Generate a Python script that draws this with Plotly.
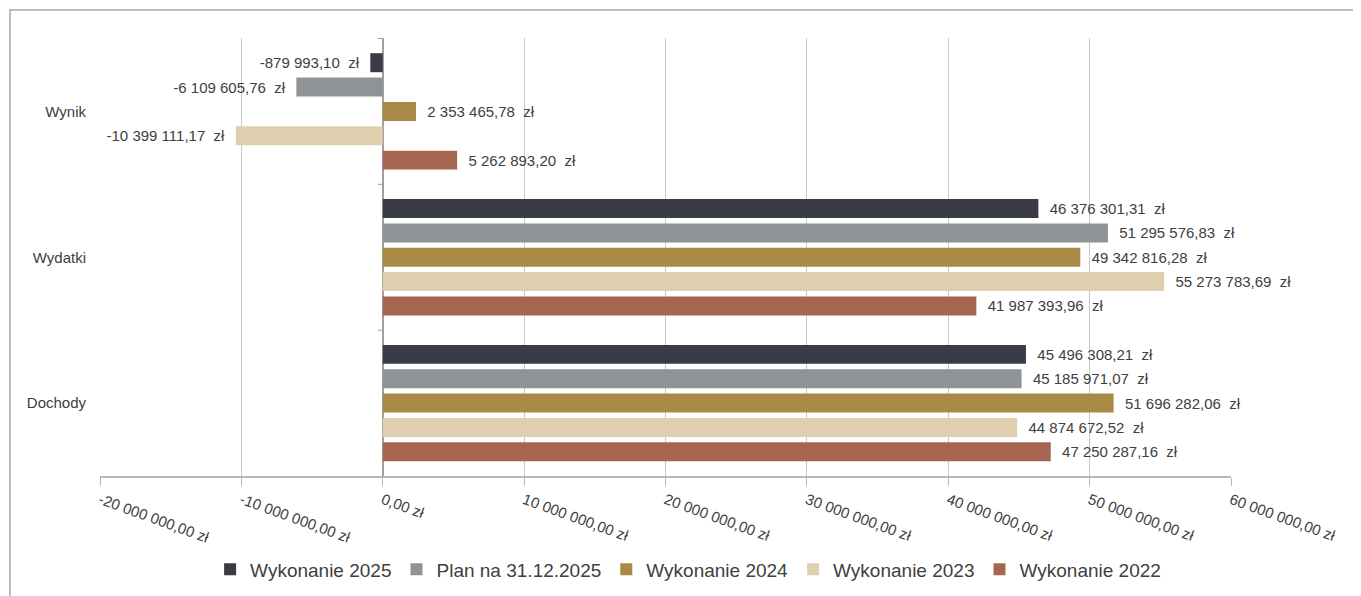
import plotly.graph_objects as go

categories = ["Dochody", "Wydatki", "Wynik"]
series_names = ["Wykonanie 2025", "Plan na 31.12.2025", "Wykonanie 2024", "Wykonanie 2023", "Wykonanie 2022"]
values_2025 = [45496308.21, 46376301.31, -879993.10]
values_plan = [45185971.07, 51295576.83, -6109605.76]
values_2024 = [51696282.06, 49342816.28, 2353465.78]
values_2023 = [44874672.52, 55273783.69, -10399111.17]
values_2022 = [47250287.16, 41987393.96, 5262893.20]
series_values = [values_2025, values_plan, values_2024, values_2023, values_2022]
colors = ["#393B47", "#8F9396", "#A88A46", "#DFCFAE", "#A66550"]
tick_values = [-20e6, -10e6, 0, 10e6, 20e6, 30e6, 40e6, 50e6, 60e6]
tick_labels = ["-20 000 000,00 zł", "-10 000 000,00 zł", "0,00 zł", "10 000 000,00 zł",
               "20 000 000,00 zł", "30 000 000,00 zł", "40 000 000,00 zł",
               "50 000 000,00 zł", "60 000 000,00 zł"]

NB = "\u00a0"


def fmt(v):
    s = f"{abs(v):,.2f}".replace(",", " ").replace(".", ",")
    s = ("-" if v < 0 else "") + s + NB + NB + "zł"
    return (s + NB + NB) if v < 0 else (NB + NB + s)


fig = go.Figure()
for name, vals, col in reversed(list(zip(series_names, series_values, colors))):
    fig.add_trace(go.Bar(
        name=name, y=categories, x=vals, orientation="h",
        marker=dict(color=col, line=dict(width=0)),
        text=[fmt(v) for v in vals], textposition="outside",
        textfont=dict(family="Liberation Sans, Arial", size=15, color="#404040"),
        cliponaxis=False,
    ))

shapes = [
    dict(type="rect", xref="paper", yref="paper", x0=-0.0796, x1=1.15, y0=-0.3, y1=1.064,
         line=dict(color="#A8A8A8", width=1.5), fillcolor="rgba(0,0,0,0)", layer="below"),
]
for yv in [0.5, 1.5, 2.5]:
    shapes.append(dict(type="line", xref="x", yref="y", xsizemode="pixel", xanchor=0,
                       x0=-5, x1=0, y0=yv, y1=yv, line=dict(color="#A0A0A0", width=1)))

fig.update_layout(
    width=1353, height=588,
    margin=dict(l=92, r=130, t=30, b=120, autoexpand=False),
    paper_bgcolor="white", plot_bgcolor="white",
    barmode="group", bargap=0.165, bargroupgap=0.22,
    font=dict(family="Liberation Sans, Arial", color="#404040"),
    showlegend=True,
    legend=dict(orientation="h", traceorder="reversed", x=0.52, xanchor="center",
                y=-0.17, yanchor="top", font=dict(size=19, color="#404040"),
                itemwidth=30),
    shapes=shapes,
    xaxis=dict(range=[-20e6, 60e6], tickvals=tick_values, ticktext=tick_labels,
               tickangle=20, tickfont=dict(size=15, color="#404040"),
               showgrid=True, gridcolor="#C8C8C8", gridwidth=1,
               showline=True, linecolor="#B8B8B8", linewidth=1.5,
               ticks="outside", ticklen=8, tickcolor="#B8B8B8",
               zeroline=True, zerolinecolor="#A0A0A0", zerolinewidth=1.5,
               automargin=False, fixedrange=True),
    yaxis=dict(categoryorder="array", categoryarray=categories,
               tickfont=dict(size=15, color="#404040"), showline=False,
               ticks="", ticklabelstandoff=13, automargin=False, fixedrange=True),
)

fig.write_html("out.html")
